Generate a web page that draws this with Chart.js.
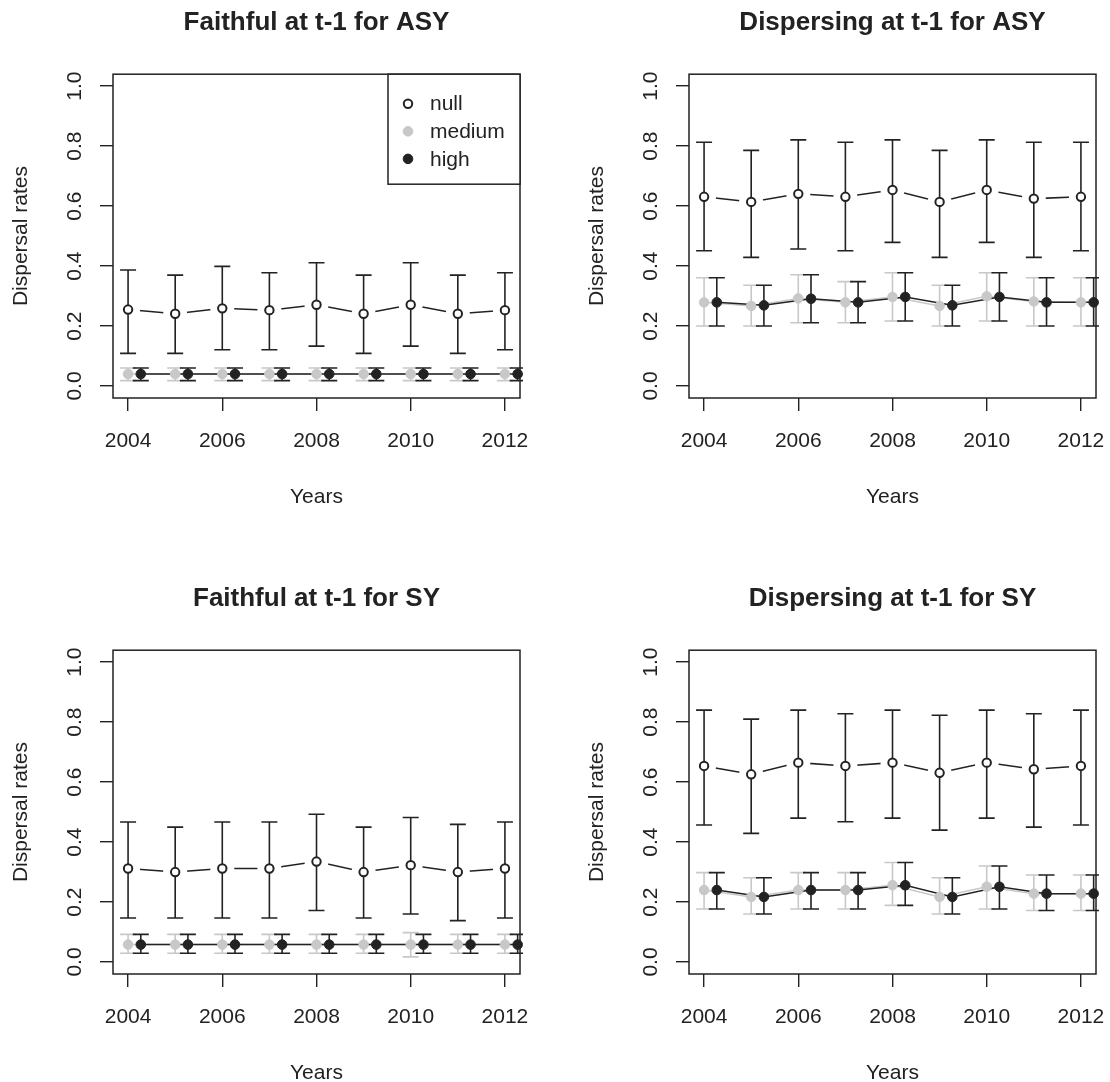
<!DOCTYPE html>
<html>
<head>
<meta charset="utf-8">
<title>Dispersal rates</title>
<script src="https://cdn.jsdelivr.net/npm/chart.js@4.4.1/dist/chart.umd.min.js"></script>
<style>
  html, body { margin: 0; padding: 0; background: #fff; overflow: hidden; }
  body { width: 1110px; height: 1082px; position: relative; }
  .panel { position: absolute; width: 534px; height: 541px; }
  .panel canvas { display: block; }
</style>
</head>
<body>
<div class="panel" style="left:0;top:0"><canvas id="p1" width="534" height="541"></canvas></div>
<div class="panel" style="left:576px;top:0"><canvas id="p2" width="534" height="541"></canvas></div>
<div class="panel" style="left:0;top:576px"><canvas id="p3" width="534" height="541"></canvas></div>
<div class="panel" style="left:576px;top:576px"><canvas id="p4" width="534" height="541"></canvas></div>
<script>
// ── Data ──────────
const years = [2004, 2005, 2006, 2007, 2008, 2009, 2010, 2011, 2012];
const xTicks = [2004, 2006, 2008, 2010, 2012];
const yTicks = [0, 0.2, 0.4, 0.6, 0.8, 1.0];
const seriesNames = ['null', 'medium', 'high'];

// Faithful at t-1 for ASY
const faithAsyNull   = [0.255, 0.241, 0.259, 0.253, 0.271, 0.241, 0.271, 0.241, 0.253];
const faithAsyNullLo = [0.109, 0.109, 0.121, 0.121, 0.133, 0.109, 0.133, 0.109, 0.121];
const faithAsyNullHi = [0.387, 0.370, 0.399, 0.378, 0.411, 0.370, 0.411, 0.370, 0.378];
const faithAsyMed    = [0.040, 0.040, 0.040, 0.040, 0.040, 0.040, 0.040, 0.040, 0.040];
const faithAsyMedLo  = [0.018, 0.018, 0.018, 0.018, 0.018, 0.018, 0.018, 0.018, 0.018];
const faithAsyMedHi  = [0.060, 0.060, 0.060, 0.060, 0.060, 0.060, 0.060, 0.060, 0.060];
const faithAsyHigh   = [0.040, 0.040, 0.040, 0.040, 0.040, 0.040, 0.040, 0.040, 0.040];
const faithAsyHighLo = [0.018, 0.018, 0.018, 0.018, 0.018, 0.018, 0.018, 0.018, 0.018];
const faithAsyHighHi = [0.060, 0.060, 0.060, 0.060, 0.060, 0.060, 0.060, 0.060, 0.060];

// Dispersing at t-1 for ASY
const dispAsyNull   = [0.631, 0.614, 0.641, 0.631, 0.654, 0.614, 0.654, 0.625, 0.631];
const dispAsyNullLo = [0.451, 0.429, 0.457, 0.451, 0.479, 0.429, 0.479, 0.429, 0.451];
const dispAsyNullHi = [0.813, 0.786, 0.821, 0.813, 0.821, 0.786, 0.821, 0.813, 0.813];
const dispAsyMed    = [0.279, 0.267, 0.292, 0.279, 0.297, 0.267, 0.299, 0.282, 0.279];
const dispAsyMedLo  = [0.200, 0.200, 0.211, 0.211, 0.217, 0.200, 0.217, 0.200, 0.200];
const dispAsyMedHi  = [0.361, 0.336, 0.371, 0.348, 0.378, 0.336, 0.378, 0.361, 0.361];
const dispAsyHigh   = [0.279, 0.269, 0.291, 0.279, 0.297, 0.269, 0.297, 0.279, 0.279];
const dispAsyHighLo = [0.200, 0.200, 0.211, 0.211, 0.217, 0.200, 0.217, 0.200, 0.200];
const dispAsyHighHi = [0.361, 0.336, 0.371, 0.348, 0.378, 0.336, 0.378, 0.361, 0.361];

// Faithful at t-1 for SY
const faithSyNull   = [0.312, 0.300, 0.312, 0.312, 0.335, 0.300, 0.323, 0.300, 0.312];
const faithSyNullLo = [0.147, 0.147, 0.147, 0.147, 0.172, 0.147, 0.160, 0.138, 0.147];
const faithSyNullHi = [0.467, 0.450, 0.467, 0.467, 0.493, 0.450, 0.482, 0.459, 0.467];
const faithSyMed    = [0.058, 0.058, 0.058, 0.058, 0.058, 0.058, 0.058, 0.058, 0.058];
const faithSyMedLo  = [0.029, 0.029, 0.029, 0.029, 0.029, 0.029, 0.017, 0.029, 0.029];
const faithSyMedHi  = [0.092, 0.092, 0.092, 0.092, 0.092, 0.092, 0.098, 0.092, 0.092];
const faithSyHigh   = [0.058, 0.058, 0.058, 0.058, 0.058, 0.058, 0.058, 0.058, 0.058];
const faithSyHighLo = [0.029, 0.029, 0.029, 0.029, 0.029, 0.029, 0.029, 0.029, 0.029];
const faithSyHighHi = [0.092, 0.092, 0.092, 0.092, 0.092, 0.092, 0.092, 0.092, 0.092];

// Dispersing at t-1 for SY
const dispSyNull   = [0.654, 0.626, 0.665, 0.654, 0.665, 0.631, 0.665, 0.643, 0.654];
const dispSyNullLo = [0.457, 0.429, 0.480, 0.468, 0.480, 0.440, 0.480, 0.450, 0.457];
const dispSyNullHi = [0.840, 0.810, 0.840, 0.828, 0.840, 0.823, 0.840, 0.828, 0.840];
const dispSyMed    = [0.240, 0.217, 0.240, 0.240, 0.256, 0.217, 0.251, 0.228, 0.228];
const dispSyMedLo  = [0.177, 0.160, 0.177, 0.177, 0.189, 0.160, 0.177, 0.172, 0.172];
const dispSyMedHi  = [0.298, 0.281, 0.298, 0.298, 0.332, 0.281, 0.320, 0.290, 0.290];
const dispSyHigh   = [0.240, 0.217, 0.240, 0.240, 0.256, 0.217, 0.251, 0.228, 0.228];
const dispSyHighLo = [0.177, 0.160, 0.177, 0.177, 0.189, 0.160, 0.177, 0.172, 0.172];
const dispSyHighHi = [0.298, 0.281, 0.298, 0.298, 0.332, 0.281, 0.320, 0.290, 0.290];

// ── Style ──────────
const INK = '#222222';
const GREY = '#c8c8c8';
const FONT = "'Liberation Sans', Arial, Helvetica, sans-serif";
const HIGH_SHIFT = 0.27;   // high series drawn a little to the right of each year
const CAP = 8;             // half width of error bar caps (px)

Chart.defaults.font.family = FONT;
Chart.defaults.color = INK;

function xy(xs, ys, shift) {
    return xs.map((x, i) => ({ x: x + shift, y: ys[i] }));
}

// keep the axis box a fixed size, no extra room for overhanging labels
function fixSize(prop, size) {
    return ax => {
        ax[prop] = size;
        ax.paddingLeft = ax.paddingRight = ax.paddingTop = ax.paddingBottom = 0;
    };
}

// ── Plugins ──────────
// error bars sit between the white halos and the points
const errorBars = {
    id: 'errorBars',
    afterDatasetDraw(chart, args) {
        if (chart.data.datasets[args.index].role !== 'halo') return;
        const { ctx, chartArea: a, scales: { x, y } } = chart;
        ctx.save();
        ctx.beginPath();
        ctx.rect(a.left, a.top - 2, a.right - a.left + 3, a.bottom - a.top + 4);
        ctx.clip();
        ctx.lineWidth = 1.6;
        chart.data.datasets.filter(d => d.role === 'points').forEach(d => {
            ctx.strokeStyle = d.barColor;
            d.data.forEach((p, i) => {
                const px = x.getPixelForValue(p.x);
                const top = y.getPixelForValue(d.hi[i]);
                const bot = y.getPixelForValue(d.lo[i]);
                ctx.beginPath();
                ctx.moveTo(px, top); ctx.lineTo(px, bot);
                ctx.moveTo(px - CAP, top); ctx.lineTo(px + CAP, top);
                ctx.moveTo(px - CAP, bot); ctx.lineTo(px + CAP, bot);
                ctx.stroke();
            });
        });
        ctx.restore();
    }
};

// R style box around the plot region + optional legend
const plotFrame = {
    id: 'plotFrame',
    afterDraw(chart, args, opts) {
        const { ctx, chartArea: a } = chart;
        ctx.save();
        ctx.strokeStyle = INK;
        ctx.lineWidth = 1.5;
        ctx.strokeRect(a.left, a.top, a.right - a.left, a.bottom - a.top);

        if (opts.legend) {
            const w = 132, h = 110;
            const lx = a.right - w, ly = a.top;
            ctx.fillStyle = '#fff';
            ctx.fillRect(lx, ly, w, h);
            ctx.strokeRect(lx, ly, w, h);
            const pts = chart.data.datasets.filter(d => d.role === 'points');
            ctx.font = `21px ${FONT}`;
            ctx.textBaseline = 'middle';
            pts.forEach((d, i) => {
                const ry = ly + 29.5 + i * 27.6;
                ctx.beginPath();
                ctx.arc(lx + 20, ry, d.pointRadius, 0, Math.PI * 2);
                ctx.fillStyle = d.pointBackgroundColor;
                ctx.fill();
                ctx.lineWidth = d.pointBorderWidth;
                ctx.strokeStyle = d.pointBorderColor;
                ctx.stroke();
                ctx.fillStyle = INK;
                ctx.fillText(d.label, lx + 42, ry + 1);
            });
        }
        ctx.restore();
    }
};

// ── Panels ──────────
function makePanel(canvasId, title, s, showLegend) {
    const lineDs = (ys, color, shift, order) => ({
        role: 'line', data: xy(years, ys, shift), showLine: true,
        borderColor: color, borderWidth: 1.5, pointRadius: 0, tension: 0, order
    });
    const pointDs = (label, ys, lo, hi, fill, stroke, shift, r, bw, order) => ({
        role: 'points', label, data: xy(years, ys, shift), lo, hi, showLine: false,
        barColor: stroke, pointRadius: r, pointBackgroundColor: fill,
        pointBorderColor: stroke, pointBorderWidth: bw, clip: false, order
    });

    return new Chart(document.getElementById(canvasId), {
        type: 'line',
        data: {
            datasets: [
                lineDs(s.nul[0], INK, 0, 52),
                lineDs(s.med[0], GREY, 0, 51),
                lineDs(s.high[0], INK, HIGH_SHIFT, 50),
                {
                    role: 'halo', data: xy(years, s.nul[0], 0), showLine: false,
                    pointRadius: 12, pointBackgroundColor: '#fff', pointBorderColor: '#fff',
                    pointBorderWidth: 0, order: 40
                },
                pointDs(seriesNames[0], s.nul[0], s.nul[1], s.nul[2], '#fff', INK, 0, 4.2, 2, 12),
                pointDs(seriesNames[1], s.med[0], s.med[1], s.med[2], GREY, GREY, 0, 4.8, 1, 11),
                pointDs(seriesNames[2], s.high[0], s.high[1], s.high[2], INK, INK, HIGH_SHIFT, 4.8, 1, 10)
            ]
        },
        options: {
            responsive: false,
            animation: false,
            events: [],
            layout: { padding: { left: 0, right: 14, top: 0, bottom: 23 } },
            plugins: {
                legend: { display: false },
                tooltip: { enabled: false },
                title: {
                    display: true, text: title, color: INK, fullSize: false,
                    font: { size: 26, weight: 'bold', lineHeight: 1.2 },
                    padding: { top: 7, bottom: 36 }
                },
                plotFrame: { legend: showLegend }
            },
            scales: {
                x: {
                    type: 'linear', min: 2003.68, max: 2012.32, bounds: 'data',
                    afterBuildTicks: ax => { ax.ticks = xTicks.map(v => ({ value: v })); },
                    afterFit: fixSize('height', 120),
                    grid: { drawOnChartArea: false, drawTicks: true, tickLength: 13, color: INK, lineWidth: 1.4 },
                    border: { display: false },
                    ticks: { padding: 18, color: INK, font: { size: 21 }, maxRotation: 0, callback: v => String(v) },
                    title: { display: true, text: 'Years', color: INK, font: { size: 21 }, padding: { top: 0, bottom: 8 } }
                },
                y: {
                    type: 'linear', min: -0.04, max: 1.04, bounds: 'data',
                    afterBuildTicks: ax => { ax.ticks = yTicks.map(v => ({ value: v })); },
                    afterFit: fixSize('width', 113),
                    grid: { drawOnChartArea: false, drawTicks: true, tickLength: 13, color: INK, lineWidth: 1.4 },
                    border: { display: false },
                    ticks: {
                        padding: 10, color: INK, font: { size: 21 }, minRotation: 90, maxRotation: 90,
                        crossAlign: 'center', callback: v => v.toFixed(1)
                    },
                    title: { display: true, text: 'Dispersal rates', color: INK, font: { size: 21 }, padding: { top: 9, bottom: 0 } }
                }
            }
        },
        plugins: [errorBars, plotFrame]
    });
}

makePanel('p1', 'Faithful at t-1 for ASY', {
    nul: [faithAsyNull, faithAsyNullLo, faithAsyNullHi],
    med: [faithAsyMed, faithAsyMedLo, faithAsyMedHi],
    high: [faithAsyHigh, faithAsyHighLo, faithAsyHighHi]
}, true);

makePanel('p2', 'Dispersing at t-1 for ASY', {
    nul: [dispAsyNull, dispAsyNullLo, dispAsyNullHi],
    med: [dispAsyMed, dispAsyMedLo, dispAsyMedHi],
    high: [dispAsyHigh, dispAsyHighLo, dispAsyHighHi]
}, false);

makePanel('p3', 'Faithful at t-1 for SY', {
    nul: [faithSyNull, faithSyNullLo, faithSyNullHi],
    med: [faithSyMed, faithSyMedLo, faithSyMedHi],
    high: [faithSyHigh, faithSyHighLo, faithSyHighHi]
}, false);

makePanel('p4', 'Dispersing at t-1 for SY', {
    nul: [dispSyNull, dispSyNullLo, dispSyNullHi],
    med: [dispSyMed, dispSyMedLo, dispSyMedHi],
    high: [dispSyHigh, dispSyHighLo, dispSyHighHi]
}, false);
</script>
</body>
</html>
